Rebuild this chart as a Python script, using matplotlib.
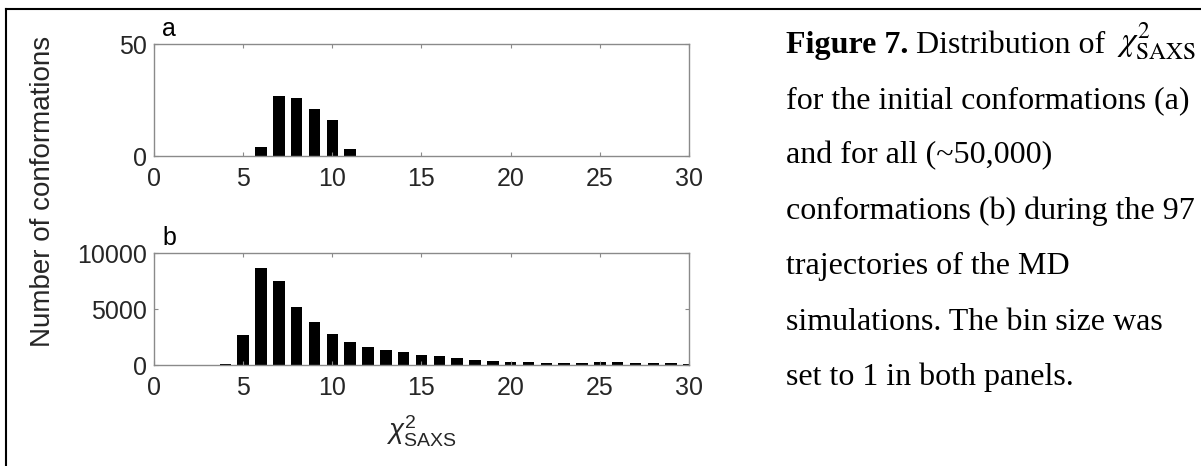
import numpy as np
import matplotlib
matplotlib.use('Agg')
from matplotlib import pyplot as plt
from matplotlib.lines import Line2D

# Histogram counts, bin size 1, bins centred on integers
bins_a = [6, 7, 8, 9, 10, 11]
counts_a = [4, 27, 26, 21, 16, 3]

bins_b = [4, 5, 6, 7, 8, 9, 10, 11, 12, 13, 14, 15, 16, 17,
          18, 19, 20, 21, 22, 23, 24, 25, 26, 27, 28, 29, 30]
counts_b = [100, 2700, 8660, 7530, 5210, 3840, 2800, 2050, 1640, 1310, 1130, 900, 830, 650,
            470, 380, 300, 300, 210, 210, 210, 280, 240, 170, 170, 170, 100]

xticks = [0, 5, 10, 15, 20, 25, 30]
yticks_a = [0, 50]
yticks_b = [0, 5000, 10000]

caption_lines = [
    "for the initial conformations (a)",
    "and for all (~50,000)",
    "conformations (b) during the 97",
    "trajectories of the MD",
    "simulations. The bin size was",
    "set to 1 in both panels.",
]

plt.rcParams['font.family'] = ['Liberation Sans', 'DejaVu Sans']
plt.rcParams['mathtext.fontset'] = 'custom'
plt.rcParams['mathtext.rm'] = 'Liberation Sans'
plt.rcParams['mathtext.it'] = 'Liberation Sans:italic'

fig = plt.figure(figsize=(12.01, 4.66), dpi=100)
ax_a = fig.add_axes([0.1282, 0.6652, 0.4455, 0.2403])
ax_b = fig.add_axes([0.1282, 0.2167, 0.4455, 0.2403])

spine_col = '#8a8a8a'
text_col = '#262626'

for ax, x, y, yt, ylim in [(ax_a, bins_a, counts_a, yticks_a, 50),
                           (ax_b, bins_b, counts_b, yticks_b, 10000)]:
    ax.bar(x, y, width=0.65, color='black', edgecolor='none')
    ax.set_xlim(0, 30)
    ax.set_ylim(0, ylim)
    ax.set_xticks(xticks)
    ax.set_yticks(yt)
    ax.tick_params(direction='in', length=3, width=0.8, color=spine_col,
                   top=True, right=True, labelsize=18, labelcolor=text_col)
    ax.tick_params(axis='x', pad=8)
    ax.tick_params(axis='y', pad=5)
    for s in ax.spines.values():
        s.set_color(spine_col)
        s.set_linewidth(1.0)

ax_a.text(0.015, 1.03, 'a', transform=ax_a.transAxes, fontsize=18, va='bottom')
ax_b.text(0.015, 1.03, 'b', transform=ax_b.transAxes, fontsize=18, va='bottom')

ax_b.set_xlabel(r'$\chi^2_{\mathrm{SAXS}}$', fontsize=20, color=text_col, labelpad=10)
fig.text(0.036, 0.59, 'Number of conformations', rotation=90, fontsize=20,
         color=text_col, ha='center', va='center')

# caption on the right
cap_x = 786 / 1201
serif = 'Liberation Serif'
fs = 23
t0 = fig.text(cap_x, 1 - 53 / 466, 'Figure 7.', fontsize=fs, fontweight='bold',
              family=serif, va='baseline')
ax_a.annotate(' Distribution of', xy=(1, 0), xycoords=t0, fontsize=fs,
              family=serif, va='bottom', ha='left', annotation_clip=False)
fig.text(0.996, 1 - 50 / 466, r'$\chi^2_{\mathrm{SAXS}}$', fontsize=24,
         math_fontfamily='stix', va='baseline', ha='right')
for i, line in enumerate(caption_lines):
    fig.text(cap_x, 1 - (53 + 55.3 * (i + 1)) / 466, line, fontsize=fs,
             family=serif, va='baseline')

# frame lines (top and left) of the figure box
fig.add_artist(Line2D([6 / 1201, 1], [1 - 9 / 466, 1 - 9 / 466], color='black', lw=1.5))
fig.add_artist(Line2D([6 / 1201, 6 / 1201], [0, 1 - 9 / 466], color='black', lw=1.5))

fig.savefig('out.png', dpi=100)
